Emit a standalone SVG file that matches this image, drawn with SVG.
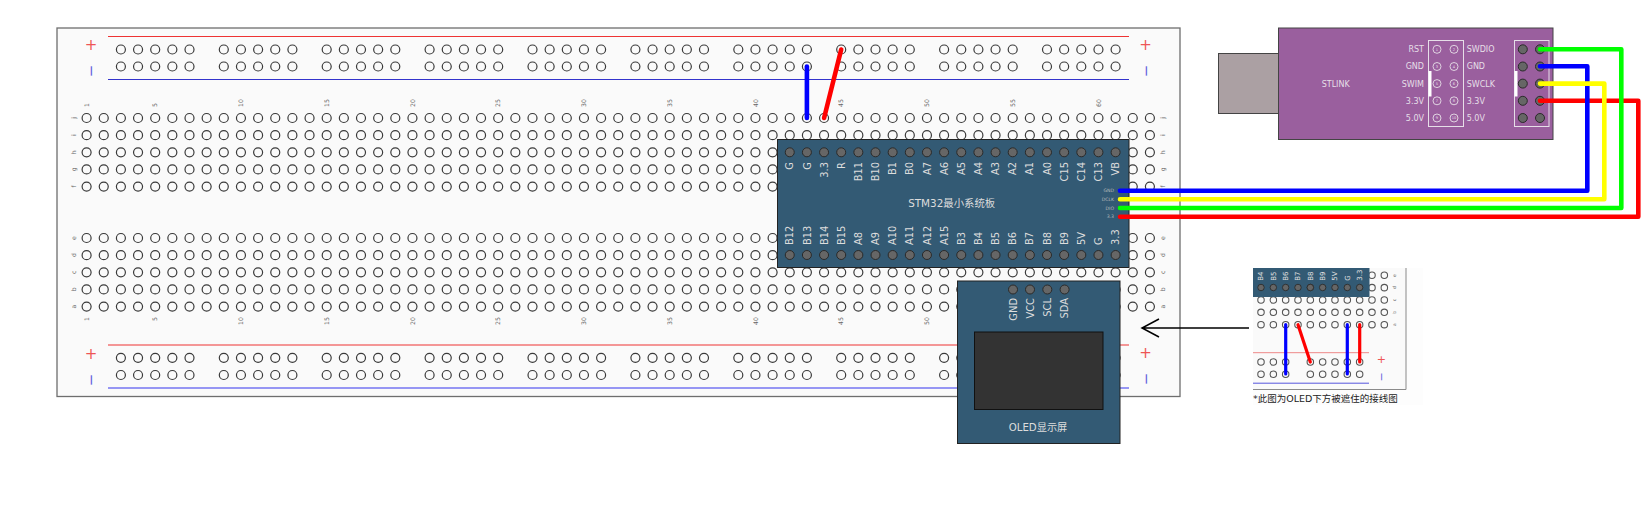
<svg xmlns="http://www.w3.org/2000/svg" xmlns:xlink="http://www.w3.org/1999/xlink" width="1646" height="512" viewBox="0 0 1646 512">
<style>
text{font-family:"DejaVu Sans","Noto Sans CJK SC",sans-serif}
.hole{fill:none;stroke:#3a3a3a;stroke-width:1.2}
.pin{fill:#666;stroke:#2a2a2a;stroke-width:1}
.bl{font-size:6.2px;fill:#666}
.end{text-anchor:end}
.mid{text-anchor:middle}
.lab{font-size:9.9px;fill:#ddd}
.sm{font-size:8px;fill:#e6dfe8}
.mod{fill:#335a74;stroke:#222;stroke-width:1}
.plus{font-size:15px;fill:#e55;text-anchor:middle}
.minus{font-size:15px;fill:#66d;text-anchor:middle}
.wire{fill:none;stroke-width:4.6;stroke-linecap:round;stroke-linejoin:round}
.w2{stroke-width:3.2}
.b{stroke:#00f}.r{stroke:#f00}.g{stroke:#0f0}.y{stroke:#ff0}
</style>
<defs>
<g id="c5"><circle cx="0" r="4.5"/><circle cx="17.15" r="4.5"/><circle cx="34.3" r="4.5"/><circle cx="51.45" r="4.5"/><circle cx="68.6" r="4.5"/></g>
<g id="c20"><use href="#c5"/><use href="#c5" x="85.75"/><use href="#c5" x="171.5"/><use href="#c5" x="257.25"/></g>
<g id="main"><use href="#c20"/><use href="#c20" x="343"/><use href="#c20" x="686"/><circle cx="1029" r="4.5"/><circle cx="1046.15" r="4.5"/><circle cx="1063.3" r="4.5"/></g>
<g id="rail"><use href="#c5"/><use href="#c5" x="102.9"/><use href="#c5" x="205.8"/><use href="#c5" x="308.7"/><use href="#c5" x="411.6"/><use href="#c5" x="514.5"/><use href="#c5" x="617.4"/><use href="#c5" x="720.3"/><use href="#c5" x="823.2"/><use href="#c5" x="926.1"/></g>
<g id="s11"><use href="#c5"/><use href="#c5" x="85.75"/><circle cx="171.5" r="4.5"/></g>
<g id="five"><use href="#main" y="0"/><use href="#main" y="17.15"/><use href="#main" y="34.3"/><use href="#main" y="51.45"/><use href="#main" y="68.6"/></g>
</defs>
<rect width="1646" height="512" fill="#fff"/>

<g id="breadboard">
<rect x="57" y="28" width="1123" height="368.5" fill="#fafafa" stroke="#6e6e6e" stroke-width="1.3"/>
<path d="M108 36.5H1129" stroke="#e33" fill="none"/>
<path d="M108 79.5H1129" stroke="#33c" fill="none"/>
<path d="M108 345H1129" stroke="#e33" fill="none"/>
<path d="M108 388H1129" stroke="#33e" fill="none"/>
<g class="hole">
<use href="#rail" x="120.9" y="49.5"/><use href="#rail" x="120.9" y="66.5"/>
<use href="#rail" x="120.9" y="357.8"/><use href="#rail" x="120.9" y="375"/>
<use href="#five" x="86.6" y="118"/><use href="#five" x="86.6" y="238"/>
</g>
<text class="plus" x="91" y="50">+</text>
<text class="minus" transform="translate(96,71) rotate(-90)">−</text>
<text class="plus" x="1145.5" y="50">+</text>
<text class="minus" transform="translate(1150.5,71) rotate(-90)">−</text>
<text class="plus" x="91" y="359">+</text>
<text class="minus" transform="translate(96,380) rotate(-90)">−</text>
<text class="plus" x="1145.5" y="358">+</text>
<text class="minus" transform="translate(1150.5,379) rotate(-90)">−</text>
<g class="bl">
<text transform="translate(88.8,107) rotate(-90)">1</text>
<text transform="translate(157.4,107) rotate(-90)">5</text>
<text transform="translate(243.2,107) rotate(-90)">10</text>
<text transform="translate(328.9,107) rotate(-90)">15</text>
<text transform="translate(414.7,107) rotate(-90)">20</text>
<text transform="translate(500.4,107) rotate(-90)">25</text>
<text transform="translate(586.2,107) rotate(-90)">30</text>
<text transform="translate(671.9,107) rotate(-90)">35</text>
<text transform="translate(757.7,107) rotate(-90)">40</text>
<text transform="translate(843.4,107) rotate(-90)">45</text>
<text transform="translate(929.2,107) rotate(-90)">50</text>
<text transform="translate(1014.9,107) rotate(-90)">55</text>
<text transform="translate(1100.7,107) rotate(-90)">60</text>
<g class="end">
<text transform="translate(88.8,317) rotate(-90)">1</text>
<text transform="translate(157.4,317) rotate(-90)">5</text>
<text transform="translate(243.2,317) rotate(-90)">10</text>
<text transform="translate(328.9,317) rotate(-90)">15</text>
<text transform="translate(414.7,317) rotate(-90)">20</text>
<text transform="translate(500.4,317) rotate(-90)">25</text>
<text transform="translate(586.2,317) rotate(-90)">30</text>
<text transform="translate(671.9,317) rotate(-90)">35</text>
<text transform="translate(757.7,317) rotate(-90)">40</text>
<text transform="translate(843.4,317) rotate(-90)">45</text>
<text transform="translate(929.2,317) rotate(-90)">50</text>
</g>
<g class="mid">
<text transform="translate(76.3,118) rotate(-90)">j</text>
<text transform="translate(76.3,135.1) rotate(-90)">i</text>
<text transform="translate(76.3,152.3) rotate(-90)">h</text>
<text transform="translate(76.3,169.4) rotate(-90)">g</text>
<text transform="translate(76.3,186.6) rotate(-90)">f</text>
<text transform="translate(76.3,238) rotate(-90)">e</text>
<text transform="translate(76.3,255.1) rotate(-90)">d</text>
<text transform="translate(76.3,272.3) rotate(-90)">c</text>
<text transform="translate(76.3,289.4) rotate(-90)">b</text>
<text transform="translate(76.3,306.6) rotate(-90)">a</text>
<text transform="translate(1165,118) rotate(-90)">j</text>
<text transform="translate(1165,135.1) rotate(-90)">i</text>
<text transform="translate(1165,152.3) rotate(-90)">h</text>
<text transform="translate(1165,169.4) rotate(-90)">g</text>
<text transform="translate(1165,186.6) rotate(-90)">f</text>
<text transform="translate(1165,238) rotate(-90)">e</text>
<text transform="translate(1165,255.1) rotate(-90)">d</text>
<text transform="translate(1165,272.3) rotate(-90)">c</text>
<text transform="translate(1165,289.4) rotate(-90)">b</text>
<text transform="translate(1165,306.6) rotate(-90)">a</text>
</g>
</g>
</g>

<g id="stm32">
<rect class="mod" x="777.5" y="139.5" width="351.5" height="128"/>
<g class="pin"><use href="#c20" x="789.75" y="152.3"/><use href="#c20" x="789.75" y="255"/></g>
<g class="lab end">
<text transform="translate(793.3,162) rotate(-90)">G</text>
<text transform="translate(810.5,162) rotate(-90)">G</text>
<text transform="translate(827.6,162) rotate(-90)">3.3</text>
<text transform="translate(844.8,162) rotate(-90)">R</text>
<text transform="translate(861.9,162) rotate(-90)">B11</text>
<text transform="translate(879.1,162) rotate(-90)">B10</text>
<text transform="translate(896.2,162) rotate(-90)">B1</text>
<text transform="translate(913.4,162) rotate(-90)">B0</text>
<text transform="translate(930.5,162) rotate(-90)">A7</text>
<text transform="translate(947.7,162) rotate(-90)">A6</text>
<text transform="translate(964.8,162) rotate(-90)">A5</text>
<text transform="translate(982,162) rotate(-90)">A4</text>
<text transform="translate(999.1,162) rotate(-90)">A3</text>
<text transform="translate(1016.3,162) rotate(-90)">A2</text>
<text transform="translate(1033.4,162) rotate(-90)">A1</text>
<text transform="translate(1050.6,162) rotate(-90)">A0</text>
<text transform="translate(1067.7,162) rotate(-90)">C15</text>
<text transform="translate(1084.9,162) rotate(-90)">C14</text>
<text transform="translate(1102,162) rotate(-90)">C13</text>
<text transform="translate(1119.2,162) rotate(-90)">VB</text>
</g>
<g class="lab">
<text transform="translate(793.3,245) rotate(-90)">B12</text>
<text transform="translate(810.5,245) rotate(-90)">B13</text>
<text transform="translate(827.6,245) rotate(-90)">B14</text>
<text transform="translate(844.8,245) rotate(-90)">B15</text>
<text transform="translate(861.9,245) rotate(-90)">A8</text>
<text transform="translate(879.1,245) rotate(-90)">A9</text>
<text transform="translate(896.2,245) rotate(-90)">A10</text>
<text transform="translate(913.4,245) rotate(-90)">A11</text>
<text transform="translate(930.5,245) rotate(-90)">A12</text>
<text transform="translate(947.7,245) rotate(-90)">A15</text>
<text transform="translate(964.8,245) rotate(-90)">B3</text>
<text transform="translate(982,245) rotate(-90)">B4</text>
<text transform="translate(999.1,245) rotate(-90)">B5</text>
<text transform="translate(1016.3,245) rotate(-90)">B6</text>
<text transform="translate(1033.4,245) rotate(-90)">B7</text>
<text transform="translate(1050.6,245) rotate(-90)">B8</text>
<text transform="translate(1067.7,245) rotate(-90)">B9</text>
<text transform="translate(1084.9,245) rotate(-90)">5V</text>
<text transform="translate(1102,245) rotate(-90)">G</text>
<text transform="translate(1119.2,245) rotate(-90)">3.3</text>
</g>
<text x="951.7" y="207" class="mid" font-size="10.4" fill="#ddd">STM32最小系统板</text>
<g font-size="4.6" fill="#bbb" text-anchor="end">
<text x="1114" y="192.4">GND</text>
<text x="1114" y="201">DCLK</text>
<text x="1114" y="209.6">DIO</text>
<text x="1114" y="218.2">3.3</text>
</g>
</g>

<g id="oled">
<rect class="mod" x="957.5" y="281" width="162.5" height="162.5"/>
<g class="pin"><circle cx="1013" cy="289.5" r="4.5"/><circle cx="1030" cy="289.5" r="4.5"/><circle cx="1047.3" cy="289.5" r="4.5"/><circle cx="1064.6" cy="289.5" r="4.5"/></g>
<g class="lab end">
<text transform="translate(1016.5,298) rotate(-90)">GND</text>
<text transform="translate(1033.7,298) rotate(-90)">VCC</text>
<text transform="translate(1050.8,298) rotate(-90)">SCL</text>
<text transform="translate(1068,298) rotate(-90)">SDA</text>
</g>
<rect x="974.5" y="332" width="128.5" height="77.5" fill="#333" stroke="#111" stroke-width="1"/>
<text x="1038" y="430.5" class="mid" font-size="10.2" fill="#ddd">OLED显示屏</text>
</g>

<g id="usb"><rect x="1218.5" y="53.5" width="60" height="60" fill="#aba0a3" stroke="#444" stroke-width="1"/></g>
<g id="stlink">
<rect x="1278.5" y="28" width="274.5" height="111.5" fill="#9a5f9e" stroke="#444" stroke-width="1"/>
<text x="1335.7" y="87" class="sm mid">STLINK</text>
<rect x="1428.5" y="40.5" width="35" height="86" fill="none" stroke="#e6dfe8"/>
<rect x="1428.5" y="71" width="3" height="25.5" fill="#fff"/>
<g fill="none" stroke="#e6dfe8" stroke-width=".9">
<circle cx="1437" cy="49.3" r="4"/><circle cx="1454" cy="49.3" r="4"/>
<circle cx="1437" cy="66.5" r="4"/><circle cx="1454" cy="66.5" r="4"/>
<circle cx="1437" cy="83.6" r="4"/><circle cx="1454" cy="83.6" r="4"/>
<circle cx="1437" cy="100.8" r="4"/><circle cx="1454" cy="100.8" r="4"/>
<circle cx="1437" cy="118" r="4"/><circle cx="1454" cy="118" r="4"/>
</g>
<g font-size="3.6" fill="#e6dfe8" text-anchor="middle">
<text x="1437" y="50.6">1</text><text x="1454" y="50.6">2</text>
<text x="1437" y="67.8">3</text><text x="1454" y="67.8">4</text>
<text x="1437" y="84.9">5</text><text x="1454" y="84.9">6</text>
<text x="1437" y="102.1">7</text><text x="1454" y="102.1">8</text>
<text x="1437" y="119.3">9</text><text x="1454" y="119.3">10</text>
</g>
<g class="sm end">
<text x="1424" y="52.2">RST</text>
<text x="1424" y="69.4">GND</text>
<text x="1424" y="86.5">SWIM</text>
<text x="1424" y="103.7">3.3V</text>
<text x="1424" y="120.9">5.0V</text>
</g>
<g class="sm">
<text x="1466.7" y="52.2">SWDIO</text>
<text x="1466.7" y="69.4">GND</text>
<text x="1466.7" y="86.5">SWCLK</text>
<text x="1466.7" y="103.7">3.3V</text>
<text x="1466.7" y="120.9">5.0V</text>
</g>
<rect x="1514.5" y="40.5" width="34.5" height="86" fill="none" stroke="#e6dfe8"/>
<rect x="1514.5" y="71" width="3" height="25.5" fill="#fff"/>
<g class="pin">
<circle cx="1522.8" cy="49.3" r="4.5"/><circle cx="1540" cy="49.3" r="4.5"/>
<circle cx="1522.8" cy="66.5" r="4.5"/><circle cx="1540" cy="66.5" r="4.5"/>
<circle cx="1522.8" cy="83.6" r="4.5"/><circle cx="1540" cy="83.6" r="4.5"/>
<circle cx="1522.8" cy="100.8" r="4.5"/><circle cx="1540" cy="100.8" r="4.5"/>
<circle cx="1522.8" cy="118" r="4.5"/><circle cx="1540" cy="118" r="4.5"/>
</g>
</g>

<g id="inset">
<rect x="1253" y="268" width="170" height="137" fill="#fdfdfd"/>
<rect x="1253" y="268" width="153" height="121.5" fill="#fafafa"/>
<path d="M1406 268V389.5H1253" fill="none" stroke="#8a8a8a" stroke-width="1"/>
<path d="M1253 352.7H1369" stroke="#e88" fill="none"/>
<path d="M1253 383.2H1369" stroke="#55d" fill="none"/>
<g class="hole" style="stroke-width:1.5;stroke:#555">
<g transform="translate(1261,300) scale(.719)"><use href="#s11"/><use href="#s11" y="17.15"/><use href="#s11" y="34.3"/></g>
<g transform="translate(1261,362) scale(.719)"><circle r="4.5"/><circle cx="17.15" r="4.5"/><circle cx="34.3" r="4.5"/><use href="#c5" x="68.6"/></g>
<g transform="translate(1261,374.2) scale(.719)"><circle r="4.5"/><circle cx="17.15" r="4.5"/><circle cx="34.3" r="4.5"/><use href="#c5" x="68.6"/></g>
<g transform="translate(1372,275.3) scale(.719)"><circle r="4.5"/><circle cx="17.15" r="4.5"/><circle cy="17.15" r="4.5"/><circle cx="17.15" cy="17.15" r="4.5"/></g>
</g>
<rect x="1253" y="268" width="116.5" height="29" fill="#335a74"/>
<g class="pin" transform="translate(1261,287.5) scale(.719)" style="stroke-width:1.2">
<use href="#c5"/><use href="#c5" x="68.6"/>
</g>
<g font-size="7" fill="#e0e0e0">
<text transform="translate(1263.4,280.8) rotate(-90)">B4</text>
<text transform="translate(1275.7,280.8) rotate(-90)">B5</text>
<text transform="translate(1288.1,280.8) rotate(-90)">B6</text>
<text transform="translate(1300.4,280.8) rotate(-90)">B7</text>
<text transform="translate(1312.7,280.8) rotate(-90)">B8</text>
<text transform="translate(1325.1,280.8) rotate(-90)">B9</text>
<text transform="translate(1337.4,280.8) rotate(-90)">5V</text>
<text transform="translate(1349.7,280.8) rotate(-90)">G</text>
<text transform="translate(1362.1,280.8) rotate(-90)">3.3</text>
</g>
<g class="bl mid" style="font-size:4.5px">
<text transform="translate(1395.5,275.5) rotate(-90)">e</text>
<text transform="translate(1395.5,287.7) rotate(-90)">d</text>
<text transform="translate(1395.5,300) rotate(-90)">c</text>
<text transform="translate(1395.5,312.4) rotate(-90)">b</text>
<text transform="translate(1395.5,324.6) rotate(-90)">a</text>
</g>
<text class="plus" x="1381.3" y="363" style="font-size:11px">+</text>
<text class="minus" transform="translate(1385,377) rotate(-90)" style="font-size:11px">−</text>
<text x="1253" y="401.5" font-size="9.5" fill="#222">*此图为OLED下方被遮住的接线图</text>
</g>

<g id="connectors">
<path class="wire r" d="M1540 100.8H1638.3V216.7H1120"/>
<path class="wire b" d="M1540 66.3H1587.3V190.7H1120"/>
<path class="wire y" d="M1540 83.6H1604.3V199.3H1120"/>
<path class="wire g" d="M1540 49.3H1621.3V208H1120"/>
<path class="wire b" d="M806.9 66.5V118"/>
<path class="wire r" d="M824.1 118L841.2 49.5"/>
<path class="wire w2 b" d="M1285.7 324.7V374"/>
<path class="wire w2 r" d="M1298 324.7L1310.3 362"/>
<path class="wire w2 b" d="M1347.3 324.7V374"/>
<path class="wire w2 r" d="M1359.7 324.7V362"/>
<path d="M1249 328H1142M1159 319L1142 328L1159 337" fill="none" stroke="#000" stroke-width="1.5"/>
</g>
</svg>
